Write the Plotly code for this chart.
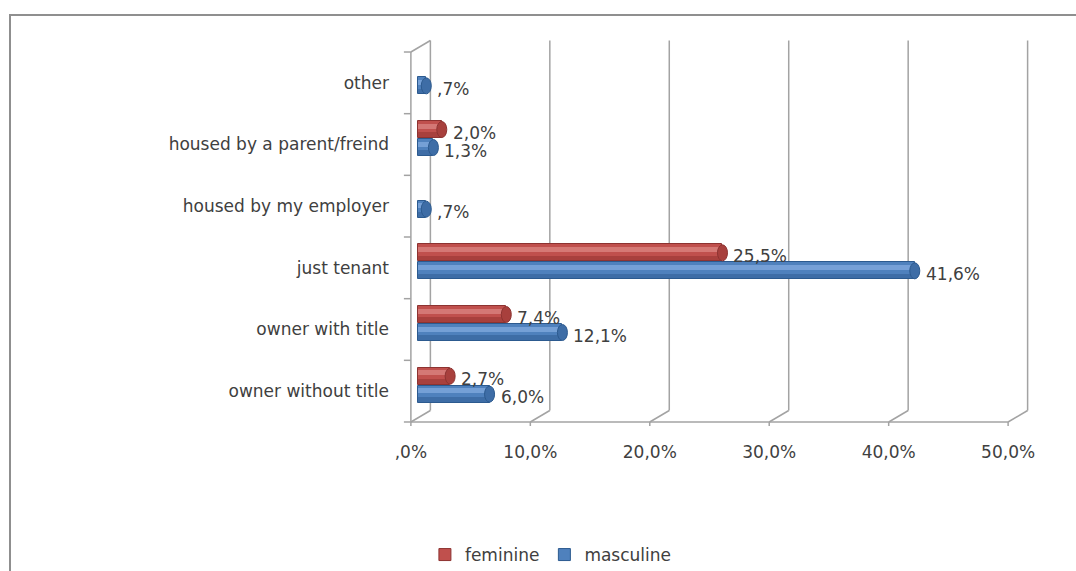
import plotly.graph_objects as go

# ---- data -------------------------------------------------------------
categories = ["owner without title", "owner with title", "just tenant",
              "housed by my employer", "housed by a parent/freind", "other"]
feminine = [2.7, 7.4, 25.5, None, 2.0, None]
masculine = [6.0, 12.1, 41.6, 0.7, 1.3, 0.7]
x_ticks = [0, 10, 20, 30, 40, 50]
x_tick_labels = [",0%", "10,0%", "20,0%", "30,0%", "40,0%", "50,0%"]

# ---- page geometry ----------------------------------------------------
W, H = 1076, 571
M_L, M_R, M_T, M_B = 394, 37, 30, 131
X_RANGE = [-2, 52]
Y_RANGE = [-0.792, 5.857]
px_x = (X_RANGE[1] - X_RANGE[0]) / (W - M_L - M_R)   # x data units per pixel
px_y = (Y_RANGE[1] - Y_RANGE[0]) / (H - M_T - M_B)   # y data units per pixel

# pseudo-3D box: front plane / back wall offsets relative to the bar plane
FRONT_DX = -7 * px_x
BACK_DX = 12.5 * px_x
BACK_DY = 11.5 * px_y
Y_LO, Y_HI = -0.5, len(categories) - 0.5

BAR_W = 17 * px_y
SERIES = [
    # name, values, centre shift, (edge, base, light, shade)
    ("feminine", feminine, 15 * px_y, ("#8d3331", "#c0504d", "#d98380", "#a8403d")),
    ("masculine", masculine, -3 * px_y, ("#2c5a8f", "#4f81bd", "#7fa8dd", "#3e6da6")),
]

FONT = "DejaVu Sans"
FS = 17
TXT = "#404040"
GRID = "#a3a3a3"


def pct(v):
    s = f"{v:.1f}".replace(".", ",")
    if s.startswith("0"):
        s = s[1:]
    return s + "%"


fig = go.Figure()
pos = list(range(len(categories)))
shapes = []
annotations = []

for name, vals, shift, (edge, base, light, shade) in SERIES:
    off = shift - BAR_W / 2
    # cylinder body
    fig.add_trace(go.Bar(
        y=pos, x=vals, orientation="h", name=name,
        width=BAR_W, offset=off,
        marker=dict(color=base, line=dict(color=edge, width=1)),
        showlegend=True,
    ))
    # lower shading band
    fig.add_trace(go.Bar(
        y=pos, x=vals, orientation="h", showlegend=False, hoverinfo="skip",
        width=BAR_W * 0.28, offset=off + BAR_W * 0.06,
        marker=dict(color=shade, line=dict(width=0)),
    ))
    # upper highlight band
    fig.add_trace(go.Bar(
        y=pos, x=vals, orientation="h", showlegend=False, hoverinfo="skip",
        width=BAR_W * 0.3, offset=off + BAR_W * 0.55,
        marker=dict(color=light, line=dict(width=0)), opacity=0.8,
    ))
    for i, v in enumerate(vals):
        if v is None:
            continue
        # rounded end cap of the cylinder
        shapes.append(dict(
            type="circle", xref="x", yref="y", layer="above",
            x0=v - 5 * px_x, x1=v + 5 * px_x,
            y0=i + off + 0.5 * px_y, y1=i + off + BAR_W - 0.5 * px_y,
            fillcolor=shade, line=dict(color=edge, width=1),
        ))
        annotations.append(dict(
            x=v, y=i + shift, xref="x", yref="y", text=pct(v),
            showarrow=False, xanchor="left", yanchor="middle",
            xshift=9, yshift=-3, font=dict(family=FONT, size=FS, color=TXT),
        ))

# back wall gridlines and floor diagonals
for v in x_ticks:
    shapes.append(dict(type="line", xref="x", yref="y", layer="below",
                       x0=v + BACK_DX, x1=v + BACK_DX,
                       y0=Y_LO + BACK_DY, y1=Y_HI + BACK_DY,
                       line=dict(color=GRID, width=1.5)))
    shapes.append(dict(type="line", xref="x", yref="y", layer="below",
                       x0=v + BACK_DX, x1=v + FRONT_DX,
                       y0=Y_LO + BACK_DY, y1=Y_LO,
                       line=dict(color=GRID, width=1.5)))
    shapes.append(dict(type="line", xref="x", yref="y", layer="below",
                       x0=v + FRONT_DX, x1=v + FRONT_DX,
                       y0=Y_LO, y1=Y_LO - 4 * px_y,
                       line=dict(color=GRID, width=1.5)))

# front floor edge, category axis and its top edge
shapes.append(dict(type="line", xref="x", yref="y", layer="below",
                   x0=FRONT_DX, x1=x_ticks[-1] + FRONT_DX, y0=Y_LO, y1=Y_LO,
                   line=dict(color=GRID, width=1.5)))
shapes.append(dict(type="line", xref="x", yref="y", layer="below",
                   x0=FRONT_DX, x1=FRONT_DX, y0=Y_LO, y1=Y_HI,
                   line=dict(color=GRID, width=1.5)))
shapes.append(dict(type="line", xref="x", yref="y", layer="below",
                   x0=FRONT_DX, x1=BACK_DX, y0=Y_HI, y1=Y_HI + BACK_DY,
                   line=dict(color=GRID, width=1.5)))
for k in range(len(categories) + 1):
    shapes.append(dict(type="line", xref="x", yref="y", layer="below",
                       x0=FRONT_DX - 7 * px_x, x1=FRONT_DX,
                       y0=Y_LO + k, y1=Y_LO + k,
                       line=dict(color=GRID, width=1.5)))

# outer chart frame
pw, ph = W - M_L - M_R, H - M_T - M_B
shapes.append(dict(type="rect", xref="paper", yref="paper", layer="above",
                   x0=(10 - M_L) / pw, x1=(W + 10 - M_L) / pw,
                   y0=(H - M_B - (H + 10)) / ph, y1=(H - M_B - 15) / ph,
                   line=dict(color="#8f8f8f", width=2), fillcolor="rgba(0,0,0,0)"))

fig.update_layout(
    width=W, height=H,
    margin=dict(l=M_L, r=M_R, t=M_T, b=M_B, autoexpand=False),
    paper_bgcolor="white", plot_bgcolor="white",
    barmode="overlay", bargap=0,
    font=dict(family=FONT, size=FS, color=TXT),
    xaxis=dict(range=X_RANGE, showgrid=False, zeroline=False, showline=False,
               ticks="", tickvals=[v + FRONT_DX for v in x_ticks],
               ticktext=x_tick_labels, automargin=False, fixedrange=True,
               ticklabelstandoff=0,
               tickfont=dict(family=FONT, size=FS, color=TXT)),
    yaxis=dict(range=Y_RANGE, showgrid=False, zeroline=False, showline=False,
               ticks="", tickvals=pos, ticktext=categories,
               ticklabelstandoff=4, automargin=False, fixedrange=True,
               tickfont=dict(family=FONT, size=FS, color=TXT)),
    legend=dict(orientation="h", xref="container", yref="container",
                x=0.512, y=0.028, xanchor="center", yanchor="middle",
                traceorder="normal", font=dict(family=FONT, size=FS, color=TXT),
                itemwidth=30),
    shapes=shapes,
    annotations=annotations,
    showlegend=True,
)

fig.write_html("out.html")
